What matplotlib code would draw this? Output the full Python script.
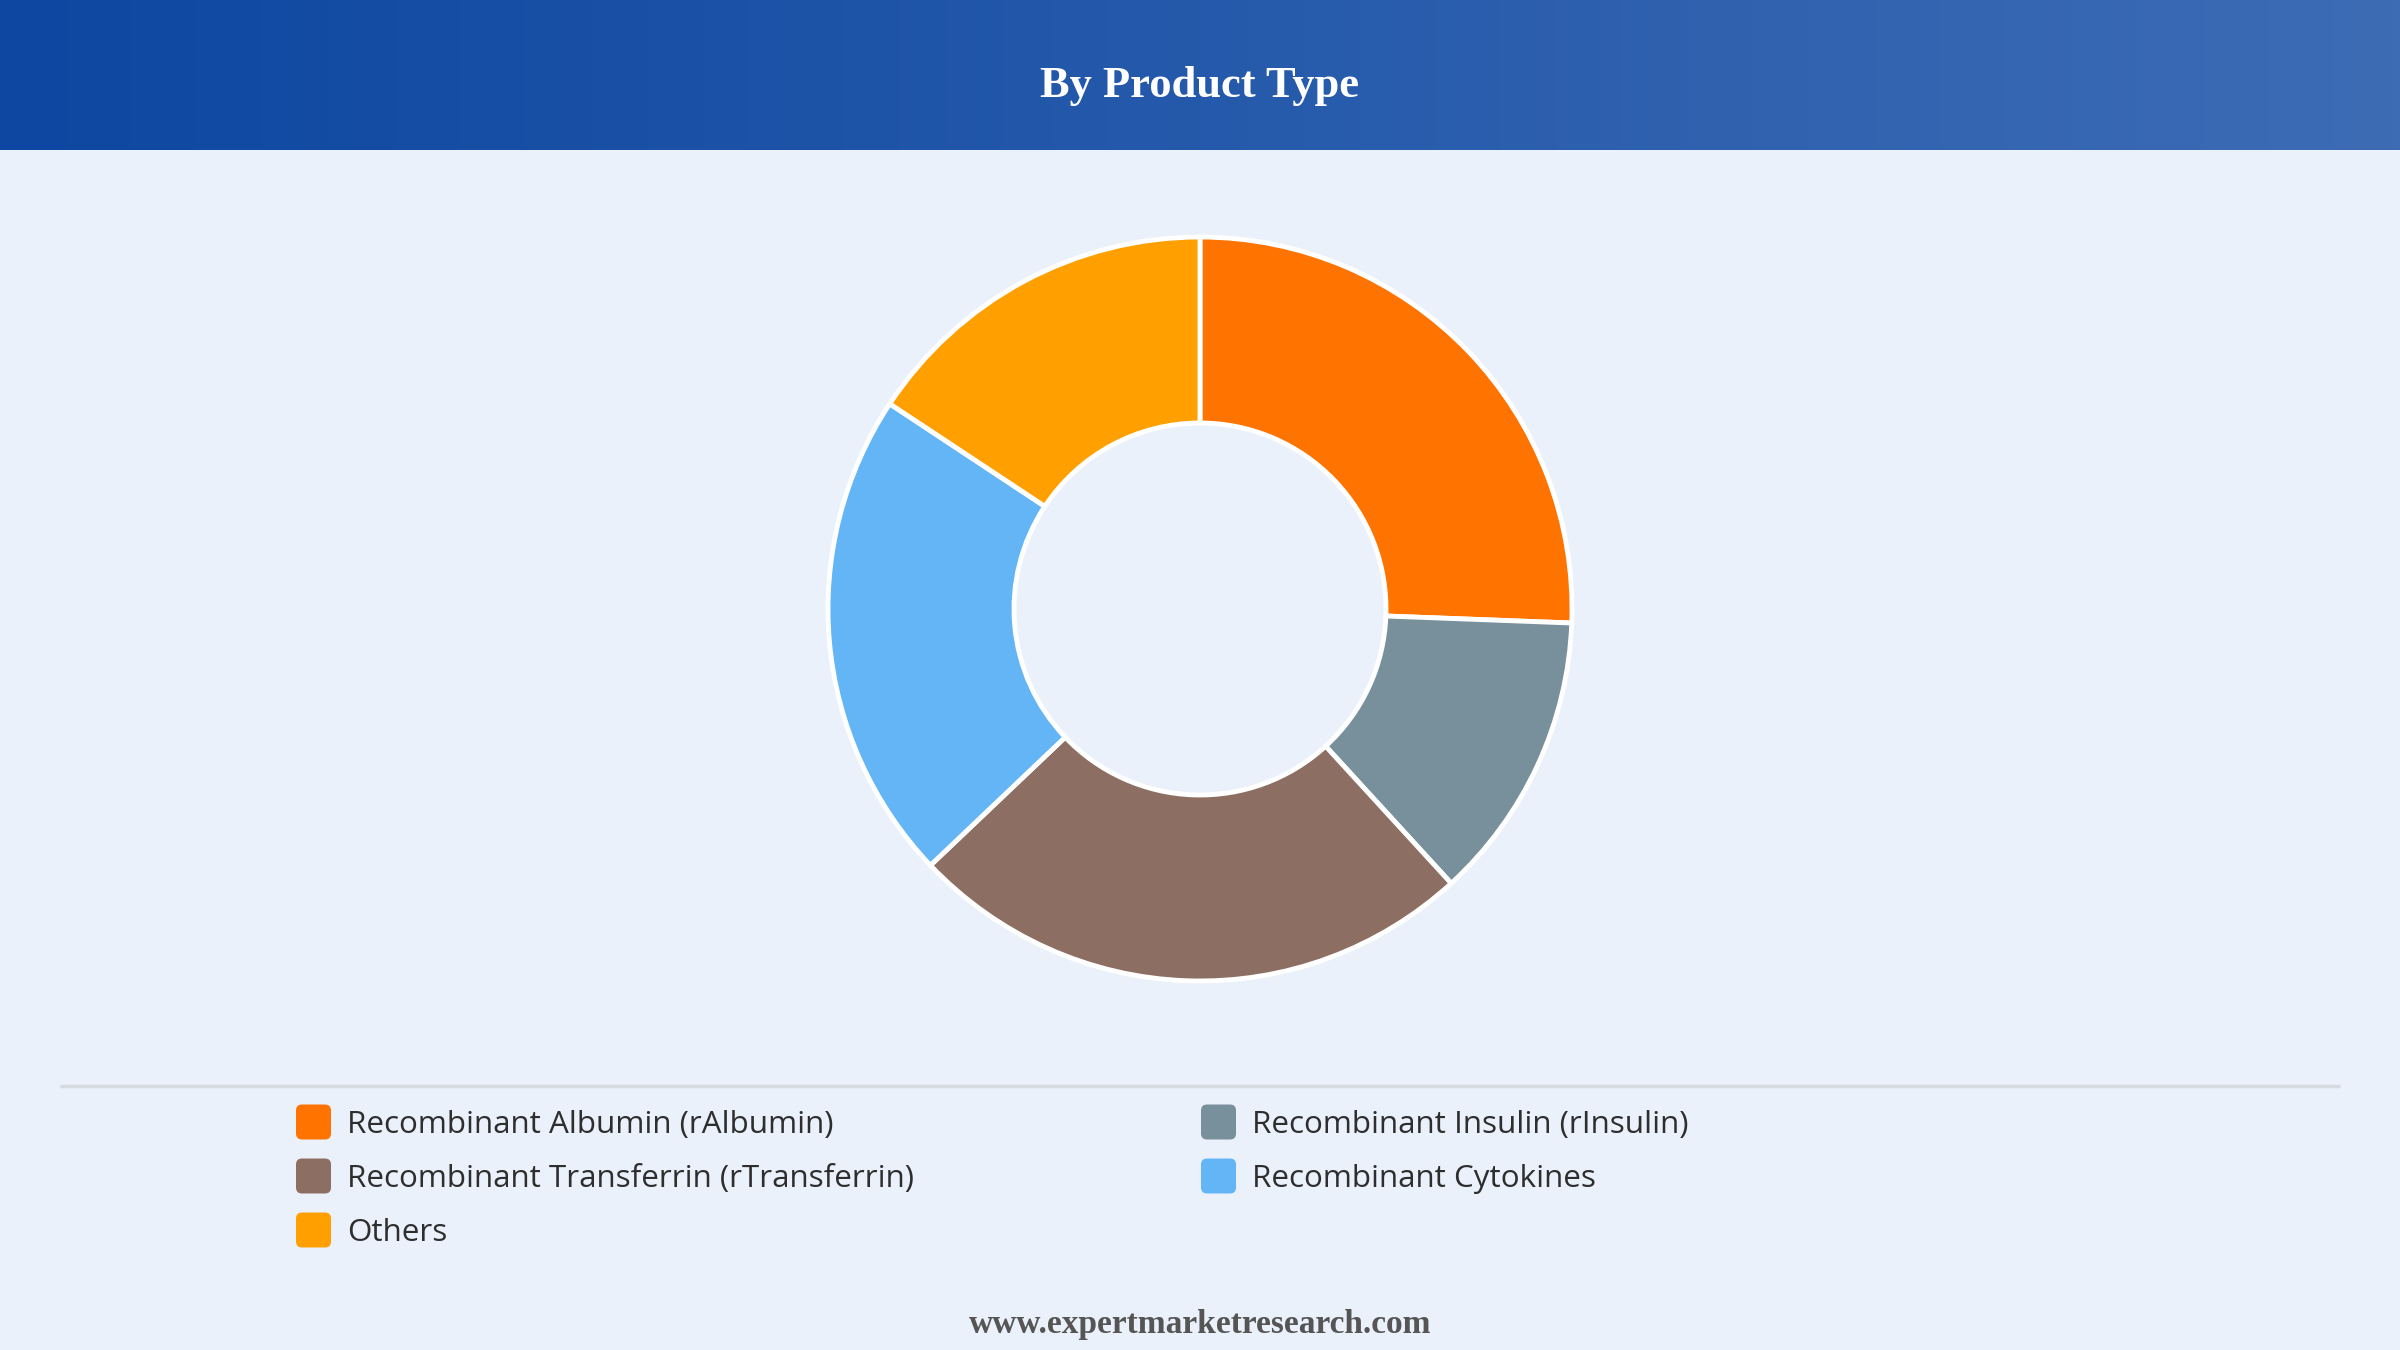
import numpy as np
import matplotlib
matplotlib.use("Agg")
import matplotlib.pyplot as plt
from matplotlib.patches import FancyBboxPatch
from matplotlib.colors import LinearSegmentedColormap

# ---- data ----
categories = [
    "Recombinant Albumin (rAlbumin)",
    "Recombinant Insulin (rInsulin)",
    "Recombinant Transferrin (rTransferrin)",
    "Recombinant Cytokines",
    "Others",
]
shares = [25.6, 12.6, 24.7, 21.4, 15.7]
colors = ["#FF7300", "#78909C", "#8D6E63", "#64B5F6", "#FFA000"]
title = "By Product Type"
footer = "www.expertmarketresearch.com"

W, H, DPI = 2400, 1350, 100
fig = plt.figure(figsize=(W / DPI, H / DPI), dpi=DPI)
fig.patch.set_facecolor("#EAF1FB")

# ---- header gradient ----
hdr_h = 150
hax = fig.add_axes([0, 1 - hdr_h / H, 1, hdr_h / H])
cmap = LinearSegmentedColormap.from_list("hdr", ["#0D47A1", "#3D6CB5"])
grad = np.linspace(0, 1, 512).reshape(1, -1)
hax.imshow(grad, aspect="auto", cmap=cmap, extent=[0, 1, 0, 1])
hax.set_axis_off()
hax.text(0.5, 0.43, title, ha="center", va="center", color="white",
         fontsize=32, fontweight="bold", family="Liberation Serif",
         transform=hax.transAxes)

# ---- donut ----
cx, cy, r = 1200, 609, 372
ax = fig.add_axes([(cx - r) / W, (H - cy - r) / H, 2 * r / W, 2 * r / H])
ax.pie(shares, colors=colors, startangle=90, counterclock=False, radius=1.0,
       wedgeprops=dict(width=0.5, edgecolor="white", linewidth=3.5))
ax.set_xlim(-1, 1)
ax.set_ylim(-1, 1)
ax.set_aspect("equal")
ax.set_axis_off()

# ---- overlay axes in pixel coords for legend/footer ----
oax = fig.add_axes([0, 0, 1, 1], facecolor="none")
oax.set_xlim(0, W)
oax.set_ylim(H, 0)
oax.set_axis_off()

oax.plot([60, 2340], [1086, 1086], color="#D6DBE2", lw=2.5, solid_capstyle="butt")

col_x = [296, 1201]
row_y = [1122, 1176, 1230]
positions = [(0, 0), (1, 0), (0, 1), (1, 1), (0, 2)]
sq = 35
for (ci, ri), lab, c in zip(positions, categories, colors):
    x = col_x[ci]
    y = row_y[ri]
    box = FancyBboxPatch((x, y - sq / 2), sq, sq,
                         boxstyle="round,pad=0,rounding_size=6",
                         facecolor=c, edgecolor="none")
    oax.add_patch(box)
    oax.text(x + 51, y + 3, lab, ha="left", va="center", color="#2E2E2E",
             fontsize=22.6, family="Open Sans")

oax.text(1200, 1324, footer, ha="center", va="center", color="#555555",
         fontsize=24, fontweight="bold", family="Liberation Serif")

fig.savefig("out.png", dpi=DPI, facecolor=fig.get_facecolor())
